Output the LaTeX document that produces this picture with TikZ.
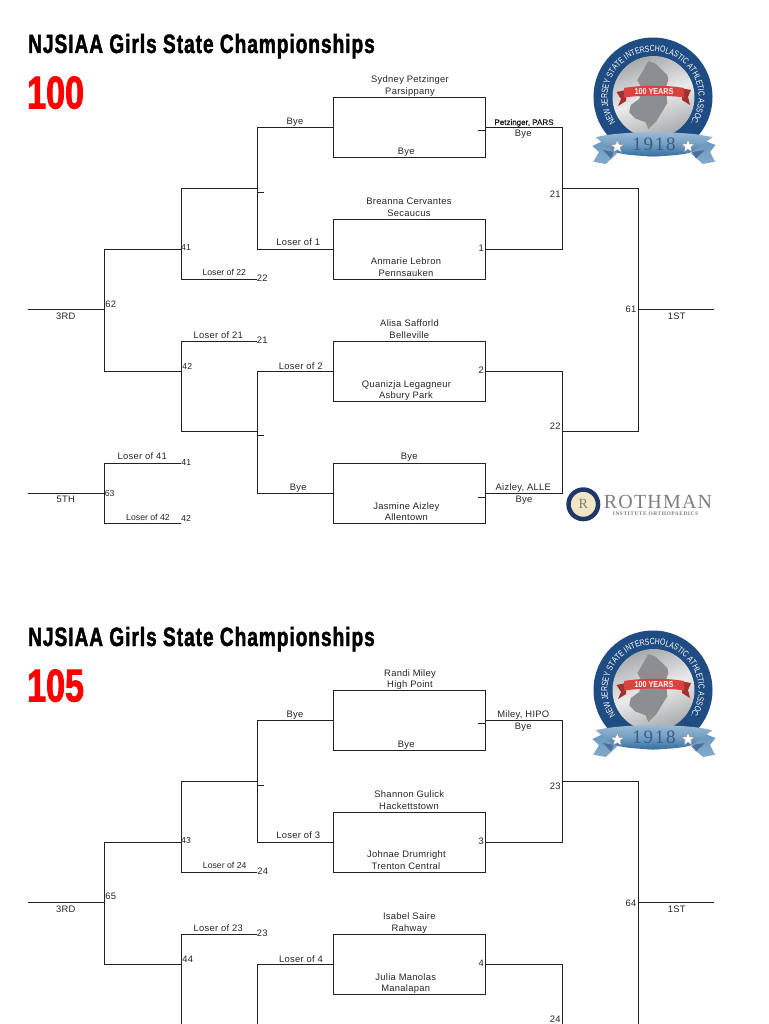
\documentclass[tikz,border=0pt]{standalone}
\usepackage{fontspec}
\setmainfont{Liberation Sans}[LetterSpace=3]
\newfontfamily\lblnarrow{Liberation Sans}
\newfontfamily\lblbold{Liberation Sans}[FakeBold=0.5]
\newfontfamily\titlefont{Liberation Sans Bold}[FakeStretch=0.72,FakeBold=1.6,LetterSpace=3.7]
\newfontfamily\numfont{Liberation Sans Bold}[FakeStretch=0.74,FakeBold=1.8]
\newfontfamily\ringfont{Liberation Sans}[FakeStretch=0.78]
\newfontfamily\bannerfont{Liberation Sans Bold}[FakeStretch=0.85]
\newfontfamily\yearfont{Liberation Serif}[LetterSpace=9]
\newfontfamily\rothfont{Liberation Serif}[LetterSpace=6]
\newfontfamily\rothsmall{Liberation Serif Bold}[LetterSpace=9]
\usetikzlibrary{shapes.geometric,decorations.text}
\definecolor{linecol}{HTML}{222222}
\definecolor{njnavy}{HTML}{1F4C82}
\definecolor{njbanner}{HTML}{4F86B5}
\definecolor{njbannerdark}{HTML}{2F6A9E}
\definecolor{njgray}{HTML}{8C8E91}
\definecolor{njred}{HTML}{D9433F}
\definecolor{rothnavy}{HTML}{1D3768}
\definecolor{rothbeige}{HTML}{F1E5C3}
\definecolor{rothgray}{HTML}{7F7F7F}
\tikzset{
  conn/.style={draw=linecol,line width=1pt},
  matchbox/.style={draw=linecol,line width=1pt,rectangle,minimum width=152pt,minimum height=60pt,inner sep=0pt,outer sep=0pt},
  lbl/.style={inner sep=0pt,text height=6.8pt,text depth=0pt,font=\fontsize{9.4}{10}\selectfont,text=black!85},
  lblsm/.style={inner sep=0pt,text height=6.8pt,text depth=0pt,font=\lblnarrow\fontsize{8.7}{10}\selectfont,text=black!85},
  lbltiny/.style={inner sep=0pt,text height=6pt,text depth=0pt,font=\lblbold\fontsize{8}{10}\selectfont,text=black!90},
  titlelbl/.style={inner sep=0pt,anchor=west,text height=19pt,text depth=0pt,font=\titlefont\fontsize{26.5}{28}\selectfont},
  weightlbl/.style={inner sep=0pt,anchor=west,text height=33pt,text depth=0pt,text=red,font=\numfont\fontsize{46}{48}\selectfont},
  logostar/.style={star,star points=5,star point ratio=2.3,fill=white,draw=njgray,line width=0.5pt,minimum size=14pt,inner sep=0pt},
}
\newcounter{labc}
\newcommand\lab[4][lbl]{\stepcounter{labc}\node[#1] (lab\arabic{labc}) at (#2,#3) {#4};}
\newcommand\bracketdraw[1]{%
  \node[matchbox] (#1m1) at (409.5,127.5) {};
  \node[matchbox] (#1m2) at (409.5,249.5) {};
  \node[matchbox] (#1m3) at (409.5,371.5) {};
  \node[matchbox] (#1m4) at (409.5,493.5) {};
  \coordinate (#1q1) at (257.5,188.5);
  \coordinate (#1q2) at (257.5,431.5);
  \coordinate (#1s1) at (562.5,188.5);
  \coordinate (#1s2) at (562.5,431.5);
  \coordinate (#1t1) at (181.5,249.5);
  \coordinate (#1t2) at (181.5,371.5);
  \coordinate (#1third) at (104.5,309.5);
  \coordinate (#1thirdend) at (28,309.5);
  \coordinate (#1first) at (638.5,309.5);
  \coordinate (#1firstend) at (714,309.5);
  \coordinate (#1lb) at (257,279.5);
  \coordinate (#1lc) at (257,341.5);
  \coordinate (#1tka) at (257.5,192.5);
  \coordinate (#1tkb) at (264,192.5);
  \coordinate (#1tkc) at (257.5,435.5);
  \coordinate (#1tkd) at (264,435.5);
  \coordinate (#1tke) at (478.3,130.5);
  \coordinate (#1tkf) at (485.5,130.5);
  \coordinate (#1tkg) at (478.3,497.5);
  \coordinate (#1tkh) at (485.5,497.5);
  \draw[conn] (#1m1.west) -| (#1q1) |- (#1m2.west);
  \draw[conn] (#1m3.west) -| (#1q2) |- (#1m4.west);
  \draw[conn] (#1q1) -| (#1t1) |- (#1lb);
  \draw[conn] (#1lc) -| (#1t2) |- (#1q2);
  \draw[conn] (#1t1) -| (#1third) |- (#1t2);
  \draw[conn] (#1thirdend) -- (#1third);
  \draw[conn] (#1m1.east) -| (#1s1) |- (#1m2.east);
  \draw[conn] (#1m3.east) -| (#1s2) |- (#1m4.east);
  \draw[conn] (#1s1) -| (#1first) |- (#1s2);
  \draw[conn] (#1first) -- (#1firstend);
  \draw[conn] (#1tka) -- (#1tkb);
  \draw[conn] (#1tkc) -- (#1tkd);
  \draw[conn] (#1tke) -- (#1tkf);
  \draw[conn] (#1tkg) -- (#1tkh);
}
\newcommand\njlogo{%
  % ring
  \fill[njnavy] (653,97) circle[radius=59.5];
  \shade[left color=njgray!75,right color=njgray!75,middle color=white!92!black,shading angle=20] (653.5,97) circle[radius=41];
  \begin{scope}[shift={(653,97)},y=1pt]
    \path[decorate,decoration={text along path,text align=center,
      text color=white,
      text={|\ringfont\fontsize{8.8}{10}\selectfont|NEW JERSEY STATE INTERSCHOLASTIC ATHLETIC ASSOC.}}]
      (222:45.5) arc[start angle=222,end angle=-42,radius=45.5];
  \end{scope}
  % state
  \fill[njgray] (648.3,61) -- (655,63.3) -- (667.3,75) -- (668.3,80) -- (666,86.7) -- (667.3,103.3)
    -- (661.7,112.3) -- (656,121.7) -- (648.3,129) -- (645.7,122.3) -- (635,118.3) -- (629.3,112.3)
    -- (630.7,105) -- (639.3,99) -- (641.7,88) -- (637.3,80) -- (643.3,70) -- cycle;
  % red ribbon
  \fill[njred!75!black] (616.5,92) -- (626,90) -- (626,101) -- (618,106) -- (621,99) -- cycle;
  \fill[njred!75!black] (691,90) -- (682,88.5) -- (682,100) -- (690,105) -- (688,97) -- cycle;
  \fill[njred] (624,88) .. controls (640,85) and (668,85) .. (684,88) -- (684,97.5) .. controls (668,95) and (640,95) .. (624,97.5) -- cycle;
  \stepcounter{labc}\node[inner sep=0pt,text=white,font=\bannerfont\fontsize{8.5}{9}\selectfont] (lab\arabic{labc}) at (654,91.5) {100 YEARS};
  % blue ribbon
  \shade[top color=njbanner!85,bottom color=njbanner!70] (592.3,146) -- (603,141) -- (617,153.5) -- (605.7,164) -- (593.3,161.7) -- (599,152) -- cycle;
  \shade[top color=njbanner!85,bottom color=njbanner!70] (715.5,145) -- (705,141) -- (691,153.5) -- (703,164) -- (715,161.7) -- (710,152) -- cycle;
  \fill[njnavy!80] (603,150) -- (614,152) -- (611,158.5) -- cycle;
  \fill[njnavy!80] (705,150) -- (692.3,152) -- (696,158.5) -- cycle;
  \shade[top color=njbanner!55,bottom color=njbannerdark,middle color=njbanner!80] (595.7,137.3) .. controls (620,130.5) and (688,130.5) .. (712.3,137.3)
     -- (692.3,152) .. controls (675,157.5) and (633,157.5) .. (614,152) -- cycle;
  \stepcounter{labc}\node[inner sep=0pt,text=njnavy!70!gray,font=\yearfont\fontsize{19}{20}\selectfont] (lab\arabic{labc}) at (654,144) {1918};
  \stepcounter{labc}\node[logostar] (lab\arabic{labc}) at (617.3,146.7) {};
  \stepcounter{labc}\node[logostar] (lab\arabic{labc}) at (688,146.3) {};
}
\begin{document}
\begin{tikzpicture}[x=1pt,y=-1pt]
\useasboundingbox (0,0) rectangle (768,1024);
\fill[white] (0,0) rectangle (768,1024);
\clip (0,0) rectangle (768,1024);

% ---------- first bracket
\bracketdraw{a}
\coordinate (conA) at (28,493.5);
\coordinate (conB) at (104.5,493.5);
\coordinate (conC) at (181,463.5);
\coordinate (conD) at (181,523.5);
\draw[conn] (conA) -- (conB);
\draw[conn] (conC) -| (conB) |- (conD);

\njlogo
\begin{scope}[yshift=-593pt]\njlogo\end{scope}

\lab[titlelbl]{28}{43.5}{NJSIAA Girls State Championships}
\lab[weightlbl]{27}{92}{100}
\lab{410}{79}{Sydney Petzinger}
\lab{410}{90.7}{Parsippany}
\lab{406.3}{151.5}{Bye}
\lab{295}{120.7}{Bye}
\lab{298.3}{242}{Loser of 1}
\lab[lblsm]{224.3}{272.3}{Loser of 22}
\lab{262.3}{278.3}{22}
\lab[lblsm]{186}{247.3}{41}
\lab{110.7}{303.7}{62}
\lab{65.7}{315.7}{3RD}
\lab{218.3}{335}{Loser of 21}
\lab{262.3}{340}{21}
\lab[lblsm]{187.3}{365.7}{42}
\lab{300.7}{365.7}{Loser of 2}
\lab{298.3}{486.7}{Bye}
\lab{142.3}{456.3}{Loser of 41}
\lab[lblsm]{186.3}{462.3}{41}
\lab[lblsm]{109.7}{492.7}{63}
\lab{65.7}{498.7}{5TH}
\lab[lblsm]{148}{517}{Loser of 42}
\lab[lblsm]{186}{517.7}{42}
\lab{409}{201}{Breanna Cervantes}
\lab{409}{212.7}{Secaucus}
\lab{406}{261.3}{Anmarie Lebron}
\lab{406}{272.7}{Pennsauken}
\lab{481.3}{248}{1}
\lab[lbltiny]{524}{122}{Petzinger, PARS}
\lab{523.3}{133.3}{Bye}
\lab{555.3}{193.7}{21}
\lab{631}{309.3}{61}
\lab{676.7}{315.7}{1ST}
\lab{409.5}{322.7}{Alisa Safforld}
\lab{409.3}{335}{Belleville}
\lab{406.5}{383.7}{Quanizja Legagneur}
\lab{406}{394.7}{Asbury Park}
\lab{481.3}{370.3}{2}
\lab{555.3}{425.7}{22}
\lab{409.3}{456.3}{Bye}
\lab{523.3}{486.7}{Aizley, ALLE}
\lab{524}{499}{Bye}
\lab{406.4}{506}{Jasmine Aizley}
\lab{406.3}{517}{Allentown}

% Rothman logo
\node[circle,fill=rothbeige,draw=rothnavy,line width=4.5pt,minimum size=29.5pt,inner sep=0pt] (rothc) at (583.3,504.3) {};
\lab[inner sep=0pt,text=rothgray,font=\rothfont\fontsize{14}{14}\selectfont]{583.3}{504.3}{R}
\lab[inner sep=0pt,text=rothgray,font=\rothfont\fontsize{20}{20}\selectfont]{658}{501.5}{ROTHMAN}
\lab[inner sep=0pt,text=rothgray,font=\rothsmall\fontsize{5.5}{6}\selectfont]{655.5}{513.5}{INSTITUTE ORTHOPAEDICS}

% ---------- second bracket
\begin{scope}[yshift=-593pt]\bracketdraw{b}\end{scope}

\lab[titlelbl]{28}{636.5}{NJSIAA Girls State Championships}
\lab[weightlbl]{27}{685}{105}
\lab{410}{672.7}{Randi Miley}
\lab{410}{683.7}{High Point}
\lab{406.3}{744.5}{Bye}
\lab{295}{713.7}{Bye}
\lab{298.3}{835}{Loser of 3}
\lab[lblsm]{224.7}{865.3}{Loser of 24}
\lab{262.7}{871.3}{24}
\lab[lblsm]{186}{840}{43}
\lab{110.7}{896.3}{65}
\lab{65.7}{908.7}{3RD}
\lab{218.3}{928}{Loser of 23}
\lab{262.3}{933}{23}
\lab{187.7}{958.7}{44}
\lab{301}{958.7}{Loser of 4}
\lab{409.3}{793.7}{Shannon Gulick}
\lab{409}{805.7}{Hackettstown}
\lab{406.5}{854.3}{Johnae Drumright}
\lab{406}{865.7}{Trenton Central}
\lab{481.3}{841}{3}
\lab{523.3}{714}{Miley, HIPO}
\lab{523.3}{726}{Bye}
\lab{555.3}{786.3}{23}
\lab{631}{902.7}{64}
\lab{676.7}{908.7}{1ST}
\lab{409.3}{916}{Isabel Saire}
\lab{409.3}{928}{Rahway}
\lab{405.7}{976.7}{Julia Manolas}
\lab{405.7}{987.7}{Manalapan}
\lab{481.3}{963.3}{4}
\lab{555.3}{1018.7}{24}
\end{tikzpicture}
\end{document}
